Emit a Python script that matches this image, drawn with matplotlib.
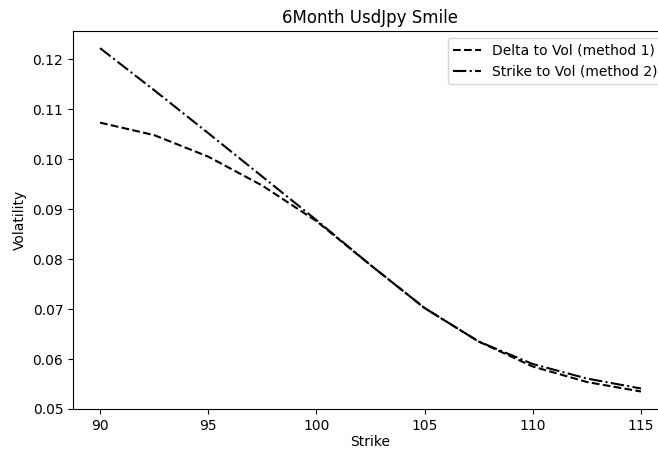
import matplotlib
matplotlib.use("Agg")
import matplotlib.pyplot as plt

# strikes and smile vols
strikes = [90, 92.5, 95, 97.5, 100, 102.5, 105, 107.5, 110, 112.5, 115]
vol_delta = [0.1073, 0.1048, 0.1005, 0.0947, 0.0876, 0.0788, 0.0702, 0.0635, 0.0585, 0.0554, 0.0535]
vol_strike = [0.1222, 0.1138, 0.1052, 0.0965, 0.0878, 0.0788, 0.0702, 0.0635, 0.0590, 0.0561, 0.0541]

fig = plt.figure(figsize=(6.58, 4.49), dpi=100)
# axes run past the right edge, as in the (cropped) reference
ax = fig.add_axes([73 / 658, 1 - 409 / 449, 595 / 658, 378 / 449])
ax.plot(strikes, vol_delta, "k--", label="Delta to Vol (method 1)")
ax.plot(strikes, vol_strike, "k-.", label="Strike to Vol (method 2)")
ax.set_xlabel("Strike", labelpad=2)
ax.set_ylabel("Volatility")
ax.set_title("6Month UsdJpy Smile")
ax.set_yticks([0.05, 0.06, 0.07, 0.08, 0.09, 0.10, 0.11, 0.12])
ax.legend(loc="upper right", bbox_to_anchor=(1 + 2 / 595, 1))
fig.savefig("out.png", dpi=100)
